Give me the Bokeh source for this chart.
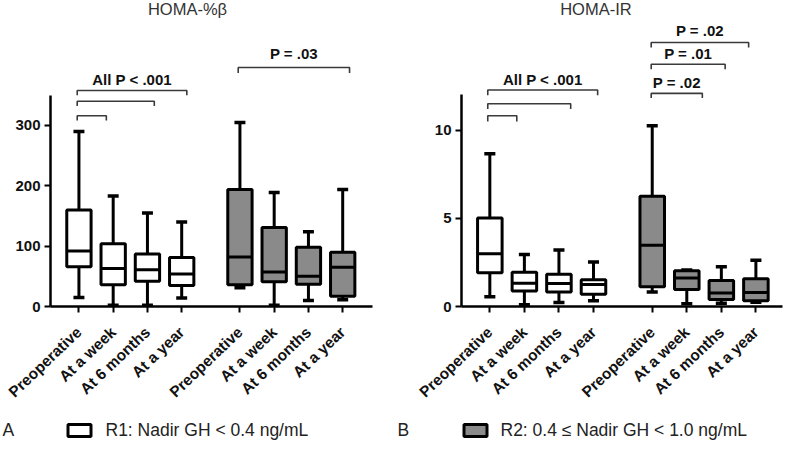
from bokeh.plotting import figure
from bokeh.models import Range1d, FixedTicker, ColumnDataSource
from bokeh.layouts import row, column
from bokeh.embed import file_html
from bokeh.resources import INLINE
from bokeh.core.properties import value

# ---------------- data ----------------
timepoints = ["Preoperative", "At a week", "At 6 months", "At a year"]
groups = ["R1: Nadir GH < 0.4 ng/mL", "R2: 0.4 \u2264 Nadir GH < 1.0 ng/mL"]
panel_titles = ["HOMA-%\u03b2", "HOMA-IR"]

# HOMA-%beta, R1
beta_r1_hi = [290, 183, 155, 140]
beta_r1_q3 = [160, 104, 87, 81]
beta_r1_med = [92, 63, 61, 54]
beta_r1_q1 = [66, 36, 42, 35]
beta_r1_lo = [15, 2, 2, 14]
# HOMA-%beta, R2
beta_r2_hi = [305, 189, 124, 194]
beta_r2_q3 = [194, 131, 98, 90]
beta_r2_med = [82, 57, 50, 65]
beta_r2_q1 = [36, 41, 37, 17]
beta_r2_lo = [31, 2, 10, 11]
# HOMA-IR, R1
ir_r1_hi = [8.66, 2.95, 3.2, 2.53]
ir_r1_q3 = [5.02, 1.95, 1.83, 1.52]
ir_r1_med = [2.99, 1.32, 1.3, 1.25]
ir_r1_q1 = [1.92, 0.88, 0.82, 0.70]
ir_r1_lo = [0.55, 0.1, 0.22, 0.33]
# HOMA-IR, R2
ir_r2_hi = [10.26, 2.07, 2.25, 2.62]
ir_r2_q3 = [6.25, 2.03, 1.47, 1.58]
ir_r2_med = [3.48, 1.61, 0.77, 0.79]
ir_r2_q1 = [1.12, 0.97, 0.40, 0.33]
ir_r2_lo = [0.82, 0.15, 0.18, 0.24]

beta_ticks = [0, 100, 200, 300]
ir_ticks = [0, 5, 10]

# significance annotations: (from box, to box, label)
beta_sig = [(0, 1, None), (0, 2, None), (0, 3, "All P < .001"), (4, 7, "P = .03")]
ir_sig = [(0, 1, None), (0, 2, None), (0, 3, "All P < .001"),
          (4, 5, "P = .02"), (4, 6, "P = .01"), (4, 7, "P = .02")]

# ---------------- layout / style ----------------
FONT = "Liberation Sans"
GRAY = "#8a8a8a"
POS = [10, 20, 30, 40, 57, 67, 77, 87]
BOX_W = 7.1
CAP_W = 3.2
ROW_H = 417
FRAME_H = 306

# bracket geometry (level, drop, start adj, end adj, label y)
beta_br = [(316, 308, -0.5, -2, None), (340, 332, -0.5, 2, None),
           (358, 350, -0.5, 1.5, 375.5), (396, 387, -0.5, 2, 420)]
ir_br = [(10.82, 10.5, -0.6, -2.2, None), (11.5, 11.2, -0.6, 3.4, None),
         (12.28, 11.98, -0.6, 1.2, 12.87), (12.09, 11.83, -0.3, 4.5, 12.73),
         (13.74, 13.46, -0.3, 1.1, 14.34), (14.98, 14.7, -0.3, -2.1, 15.68)]


def make_panel(title, stats_r1, stats_r2, ticks, ybound, yend, xr, sig, br,
               title_xy, border_left, border_right):
    p = figure(width=392, height=ROW_H, x_range=Range1d(*xr),
               y_range=Range1d(0, yend), output_backend="svg",
               toolbar_location=None, title=None,
               min_border_left=border_left, min_border_right=border_right,
               min_border_top=0, min_border_bottom=ROW_H - FRAME_H)
    p.outline_line_color = None
    p.xgrid.visible = False
    p.ygrid.visible = False
    p.background_fill_color = "white"

    hi = stats_r1[0] + stats_r2[0]
    q3 = stats_r1[1] + stats_r2[1]
    med = stats_r1[2] + stats_r2[2]
    q1 = stats_r1[3] + stats_r2[3]
    lo = stats_r1[4] + stats_r2[4]
    fills = ["white"] * 4 + [GRAY] * 4
    src = ColumnDataSource(dict(
        x=POS, hi=hi, q3=q3, med=med, q1=q1, lo=lo, fill=fills,
        cl=[x - CAP_W / 2 for x in POS], cr=[x + CAP_W / 2 for x in POS],
        bl=[x - BOX_W / 2 for x in POS], br=[x + BOX_W / 2 for x in POS]))

    p.segment(x0="x", y0="q3", x1="x", y1="hi", source=src, line_color="black", line_width=3)
    p.segment(x0="x", y0="q1", x1="x", y1="lo", source=src, line_color="black", line_width=3)
    p.segment(x0="cl", y0="hi", x1="cr", y1="hi", source=src, line_color="black", line_width=3.5)
    p.segment(x0="cl", y0="lo", x1="cr", y1="lo", source=src, line_color="black", line_width=3.5)
    p.vbar(x="x", width=BOX_W, top="q3", bottom="q1", source=src,
           fill_color="fill", line_color="black", line_width=3)
    p.segment(x0="bl", y0="med", x1="br", y1="med", source=src, line_color="black", line_width=3)

    # significance brackets
    xs, ys, lx, ly, lt = [], [], [], [], []
    for (i, j, lab), (lev, drop, sa, ea, laby) in zip(sig, br):
        x0 = POS[i] + sa
        x1 = POS[j] + ea
        xs.append([x0, x0, x1, x1])
        ys.append([drop, lev, lev, drop])
        if lab is not None:
            lx.append((x0 + x1) / 2)
            ly.append(laby)
            lt.append(lab)
    p.multi_line(xs=xs, ys=ys, line_color="#3a3a3a", line_width=1.6)
    p.text(x=lx, y=ly, text=lt, text_font=value(FONT), text_font_style="bold",
           text_font_size="15px", text_align="center", text_baseline="middle",
           text_color="#111111")

    # panel title
    p.text(x=[title_xy[0]], y=[title_xy[1]], text=[title], text_font=value(FONT),
           text_font_size="16.5px", text_align="center", text_baseline="middle",
           text_color="#333333")

    # axes
    xa = p.xaxis[0]
    xa.ticker = FixedTicker(ticks=POS)
    xa.major_label_overrides = {x: t for x, t in zip(POS, timepoints * 2)}
    xa.major_label_orientation = 0.76
    xa.major_label_text_font = FONT
    xa.major_label_text_font_style = "bold"
    xa.major_label_text_font_size = "15.5px"
    xa.major_label_text_color = "#111111"
    xa.major_label_standoff = 17
    xa.axis_line_width = 2.5
    xa.major_tick_line_width = 2
    xa.major_tick_out = 6
    xa.major_tick_in = 0
    xa.minor_tick_line_color = None

    ya = p.yaxis[0]
    ya.ticker = FixedTicker(ticks=ticks)
    ya.bounds = (0, ybound)
    ya.major_label_text_font = FONT
    ya.major_label_text_font_style = "bold"
    ya.major_label_text_font_size = "15px"
    ya.major_label_text_color = "#111111"
    ya.major_label_standoff = 4
    ya.axis_line_width = 2.5
    ya.major_tick_line_width = 2
    ya.major_tick_out = 6
    ya.major_tick_in = 0
    ya.minor_tick_line_color = None
    return p


p1 = make_panel(panel_titles[0],
                (beta_r1_hi, beta_r1_q3, beta_r1_med, beta_r1_q1, beta_r1_lo),
                (beta_r2_hi, beta_r2_q3, beta_r2_med, beta_r2_q1, beta_r2_lo),
                beta_ticks, 350, 507, (1.7, 95.7), beta_sig, beta_br,
                (41.7, 493), 50, 20)
p2 = make_panel(panel_titles[1],
                (ir_r1_hi, ir_r1_q3, ir_r1_med, ir_r1_q1, ir_r1_lo),
                (ir_r2_hi, ir_r2_q3, ir_r2_med, ir_r2_q1, ir_r2_lo),
                ir_ticks, 12, 17.36, (1.8, 94.7), ir_sig, ir_br,
                (40.7, 16.85), 69, 2)

# legend strip
LEG_H = 440 - ROW_H
leg = figure(width=784, height=LEG_H, x_range=Range1d(0, 784), y_range=Range1d(LEG_H, 0),
             output_backend="svg", toolbar_location=None, title=None,
             x_axis_type=None, y_axis_type=None, min_border=0)
leg.outline_line_color = None
leg.xgrid.visible = False
leg.ygrid.visible = False
cy = 429.4 - ROW_H
leg.text(x=[2, 397], y=[cy, cy], text=["A", "B"], text_font=value(FONT),
         text_font_size="17.5px", text_baseline="middle", text_color="#222222")
leg.quad(left=[67.5, 463.5], right=[90.5, 486.5], top=[cy - 5.5, cy - 5.5],
         bottom=[cy + 6.5, cy + 6.5],
         fill_color=["white", GRAY], line_color="black", line_width=3)
leg.text(x=[105, 500], y=[cy, cy], text=groups, text_font=value(FONT),
         text_font_size="17.5px", text_baseline="middle", text_color="#222222")

layout = column(row(p1, p2), leg)

with open("out.html", "w") as f:
    f.write(file_html(layout, INLINE))
